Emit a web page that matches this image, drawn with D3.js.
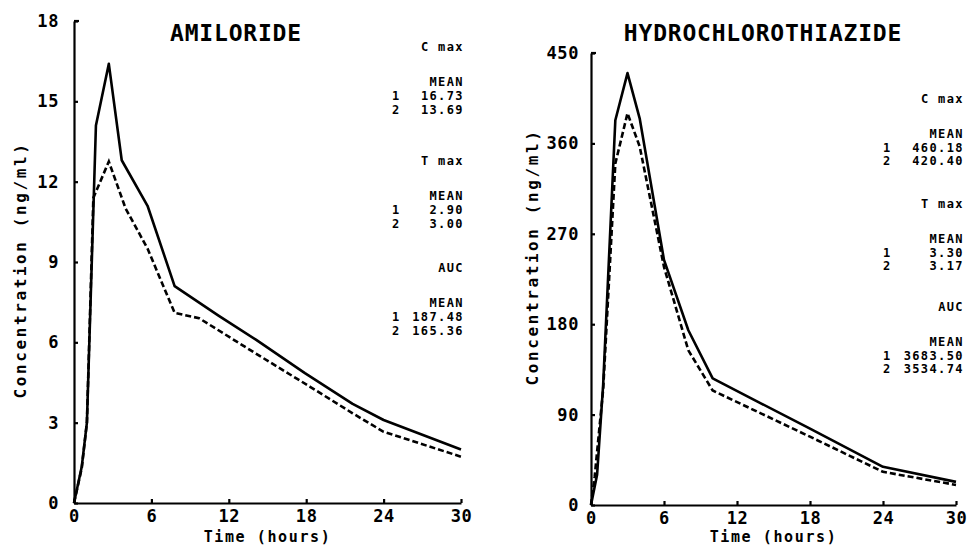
<!DOCTYPE html>
<html><head><meta charset="utf-8">
<script src="https://cdn.jsdelivr.net/npm/d3@7"></script>
<style>
body{margin:0;background:#fff}
svg{display:block;background:#fff}
text{font-family:"DejaVu Sans Mono",monospace;font-weight:bold;fill:#000}
</style></head><body>
<svg id="c" width="969" height="548"></svg>
<script>
// ---------- data ----------
const timeTicks = [0, 6, 12, 18, 24, 30];
const amiTicks = [0, 3, 6, 9, 12, 15, 18];
const hctTicks = [0, 90, 180, 270, 360, 450];

const amiTime1 = [0, 0.6, 1.0, 1.7, 2.7, 3.7, 5.7, 7.8, 11.2, 14.1, 17.9, 21.6, 24.0, 30];
const amiConc1 = [0, 1.35, 3.0, 14.1, 16.4, 12.8, 11.1, 8.1, 7.0, 6.1, 4.85, 3.7, 3.1, 2.0];
const amiTime2 = [0, 0.6, 1.0, 1.5, 2.7, 4.0, 5.7, 7.8, 9.7, 14.1, 18.3, 21.6, 24.0, 30];
const amiConc2 = [0, 1.3, 3.0, 11.4, 12.75, 11.0, 9.5, 7.1, 6.9, 5.58, 4.34, 3.35, 2.66, 1.73];

const hctTime1 = [0, 0.5, 1, 2, 3, 4, 6, 8, 10, 14, 18, 24, 30];
const hctConc1 = [0, 30, 120, 383, 430, 385, 244, 174, 126, 101, 76, 38, 23];
const hctTime2 = [0, 0.3, 1, 2, 3, 4, 6, 8, 10, 14, 18, 24, 30];
const hctConc2 = [0, 28, 115, 340, 390, 357, 237, 154, 114, 91, 68, 33, 20];

const amiHeaders = ["C max", "T max", "AUC"];
const amiMean1 = ["16.73", "2.90", "187.48"];
const amiMean2 = ["13.69", "3.00", "165.36"];
const hctHeaders = ["C max", "T max", "AUC"];
const hctMean1 = ["460.18", "3.30", "3683.50"];
const hctMean2 = ["420.40", "3.17", "3534.74"];

const titles = ["AMILORIDE", "HYDROCHLOROTHIAZIDE"];
const xTitle = "Time (hours)";
const yTitle = "Concentration (ng/ml)";

// ---------- drawing ----------
const svg = d3.select("#c");

function panel(cfg){
  const g = svg.append("g");
  const x = d3.scaleLinear().domain([0,30]).range([cfg.x0, cfg.x1]);
  const y = d3.scaleLinear().domain([0, cfg.ymax]).range([cfg.y0, cfg.y1]);

  const xa = g.append("g").attr("transform",`translate(0,${cfg.y0})`)
    .call(d3.axisBottom(x).tickValues(timeTicks).tickSize(-4).tickPadding(7).tickSizeOuter(0));
  const ya = g.append("g").attr("transform",`translate(${cfg.x0},0)`)
    .call(d3.axisLeft(y).tickValues(cfg.ticks).tickSize(-4).tickPadding(cfg.ypad).tickSizeOuter(0));
  [xa, ya].forEach(a=>{
    a.select(".domain").attr("stroke","#000").attr("stroke-width",2.2);
    a.selectAll(".tick line").attr("stroke","#000").attr("stroke-width",2.2);
    a.selectAll(".tick text").style("font-size","17px").style("letter-spacing","0.6px").attr("fill","#000");
  });
  g.append("line").attr("x1",cfg.x0).attr("x2",cfg.x0+5)
    .attr("y1",y(cfg.ymax)).attr("y2",y(cfg.ymax)).attr("stroke","#000").attr("stroke-width",2.2);

  const line = d3.line().x(d=>x(d[0])).y(d=>y(d[1]));
  g.append("path").datum(d3.zip(cfg.t1, cfg.c1)).attr("d",line)
    .attr("fill","none").attr("stroke","#000").attr("stroke-width",2.6).attr("stroke-linejoin","round");
  g.append("path").datum(d3.zip(cfg.t2, cfg.c2)).attr("d",line)
    .attr("fill","none").attr("stroke","#000").attr("stroke-width",2.6).attr("stroke-dasharray","6,3");

  g.append("text").attr("x",cfg.titleX).attr("y",33).attr("text-anchor","middle")
    .attr("dominant-baseline","central").style("font-size","23px").style("letter-spacing","0.8px").text(cfg.title);
  g.append("text").attr("x",(cfg.x0+cfg.x1)/2).attr("y",537).attr("text-anchor","middle")
    .attr("dominant-baseline","central").style("font-size","15px").style("letter-spacing","1.6px").text(xTitle);
  g.append("text").attr("transform",`translate(${cfg.ytx},${cfg.yty}) rotate(-90)`).attr("text-anchor","middle")
    .attr("dominant-baseline","central").style("font-size","16px").style("letter-spacing","2.6px").text(yTitle);

  const notes = g.append("g").style("font-size","12px").style("letter-spacing","1.4px");
  cfg.headers.forEach((h,i)=>{
    const top = cfg.noteTops[i];
    notes.append("text").attr("x",cfg.noteR).attr("y",top).attr("text-anchor","end").attr("dominant-baseline","central").text(h);
    notes.append("text").attr("x",cfg.noteR).attr("y",top+35).attr("text-anchor","end").attr("dominant-baseline","central").text("MEAN");
    [[1,cfg.m1[i]],[2,cfg.m2[i]]].forEach(([k,v],j)=>{
      const yy = top + 49 + j*cfg.rowGap;
      notes.append("text").attr("x",cfg.noteL).attr("y",yy).attr("dominant-baseline","central").style("letter-spacing","0px").text(k);
      notes.append("text").attr("x",cfg.noteR).attr("y",yy).attr("text-anchor","end").attr("dominant-baseline","central").text(v);
    });
  });
}

panel({x0:74,x1:461,y0:503,y1:21,ymax:18,ticks:amiTicks,ypad:15,
  t1:amiTime1,c1:amiConc1,t2:amiTime2,c2:amiConc2,title:titles[0],titleX:236,
  ytx:20,yty:270,headers:amiHeaders,m1:amiMean1,m2:amiMean2,noteTops:[47,161,268],
  noteL:392,noteR:464,rowGap:14});
panel({x0:591,x1:956,y0:505,y1:53,ymax:450,ticks:hctTicks,ypad:12,
  t1:hctTime1,c1:hctConc1,t2:hctTime2,c2:hctConc2,title:titles[1],titleX:763,
  ytx:532,yty:257,headers:hctHeaders,m1:hctMean1,m2:hctMean2,noteTops:[99,204,307],
  noteL:883,noteR:964,rowGap:13});
</script></body></html>
